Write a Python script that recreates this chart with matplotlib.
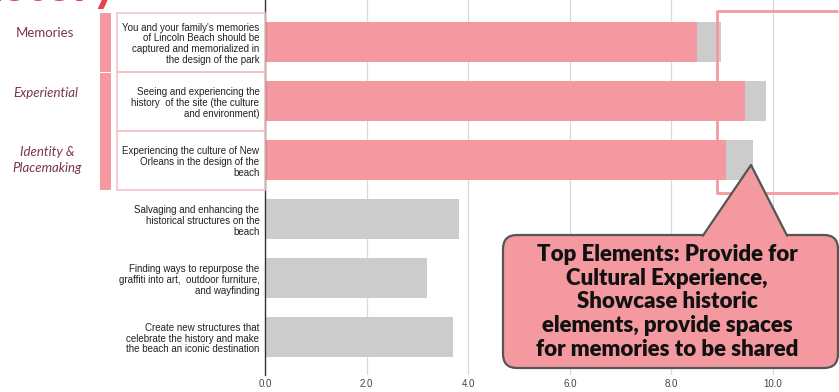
import matplotlib
matplotlib.use("Agg")
from matplotlib import pyplot as plt
from matplotlib.patches import Rectangle, FancyBboxPatch, Polygon
from matplotlib.lines import Line2D
import numpy as np

statements = [
    "You and your family's memories\nof Lincoln Beach should be\ncaptured and memorialized in\nthe design of the park",
    "Seeing and experiencing the\nhistory  of the site (the culture\nand environment)",
    "Experiencing the culture of New\nOrleans in the design of the\nbeach",
    "Salvaging and enhancing the\nhistorical structures on the\nbeach",
    "Finding ways to repurpose the\ngraffiti into art,  outdoor furniture,\nand wayfinding",
    "Create new structures that\ncelebrate the history and make\nthe beach an iconic destination",
]
top_part = [8.5, 9.45, 9.08, 0, 0, 0]
rest_part = [0.48, 0.42, 0.52, 3.82, 3.18, 3.71]
x_ticks = [0, 2, 4, 6, 8, 10]
groups = ["Memories", "Experiential", "Identity &\nPlacemaking"]
callout = ("Top Elements: Provide for\nCultural Experience,\nShowcase historic\n"
           "elements, provide spaces\nfor memories to be shared")

PINK = "#f4999f"
GREY = "#cccccc"
MAROON = "#7a3746"

W, H = 839, 392
fig = plt.figure(figsize=(W / 100, H / 100), dpi=100)

# main bar chart
ax = fig.add_axes([265 / W, (H - 375) / H, (W - 265) / W, 375 / H])
y = np.arange(len(statements))
ax.barh(y, top_part, height=0.68, color=PINK, zorder=2)
ax.barh(y, rest_part, left=top_part, height=0.68, color=GREY, zorder=2)
ax.set_xlim(0, 11.3)
ax.set_ylim(5.64, -0.72)
ax.set_xticks(x_ticks)
ax.set_xticklabels([f"{v:.1f}" for v in x_ticks], fontsize=7, color="#444444",
                   family="Liberation Sans")
ax.set_yticks(y)
ax.set_yticklabels(statements, fontsize=7, color="#222222", family="Liberation Sans",
                   linespacing=1.1)
ax.tick_params(length=0)
ax.tick_params(axis="y", pad=4)
ax.tick_params(axis="x", pad=3)
ax.grid(axis="x", color="#d9d9d9", linewidth=0.9, zorder=0)
for s in ["top", "right", "bottom"]:
    ax.spines[s].set_visible(False)
ax.spines["left"].set_color("#333333")
ax.spines["left"].set_linewidth(1)
ax.spines["left"].set_zorder(3)

# overlay in pixel coordinates for the slide decorations
ov = fig.add_axes([0, 0, 1, 1], facecolor="none")
ov.set_xlim(0, W)
ov.set_ylim(H, 0)
ov.set_autoscale_on(False)
ov.axis("off")

# slide title, cropped at the top edge like the original screenshot
ov.text(118, 1, "History", ha="right", va="baseline", fontsize=36,
        fontweight="bold", color="#e8404f", family="Lato")

# group markers and statement boxes
ov.add_patch(Rectangle((100, 13), 11, 59, color=PINK, lw=0))
ov.add_patch(Rectangle((100, 73), 11, 117, color=PINK, lw=0))
for top in [13, 72, 131]:
    ov.add_patch(Rectangle((117, top), 148, 59, fill=False, ec="#f3c3c7", lw=1.2))

ov.text(45, 33, groups[0], ha="center", va="center", fontsize=9.5,
        color=MAROON, family="Lato")
ov.text(46, 93, groups[1], ha="center", va="center", fontsize=9.5,
        color=MAROON, family="Lato", style="italic")
ov.text(47, 160, groups[2], ha="center", va="center", fontsize=9.5,
        color=MAROON, family="Lato", style="italic", linespacing=1.45)

# highlight frame around top bars (open on the right, runs to the edge)
ov.plot([716.5, W - 1], [10.5, 10.5], color=PINK, lw=2, solid_capstyle="butt")
ov.plot([716.5, W - 1], [192.5, 192.5], color=PINK, lw=2, solid_capstyle="butt")
ov.plot([716.5, 716.5], [9.5, 193.5], color=PINK, lw=2, solid_capstyle="butt")

# callout bubble
ov.add_patch(FancyBboxPatch((503, 235), 335, 133, boxstyle="round,pad=0,rounding_size=14",
                            fc=PINK, ec="#555555", lw=1.6, zorder=2))
ov.add_patch(Polygon([(703, 237), (751, 165), (787, 237)], closed=True,
                     fc=PINK, ec="none", zorder=3))
ov.add_line(Line2D([703, 751, 787], [235.5, 165, 235.5], color="#555555", lw=1.6, zorder=4))
ov.text(667, 302, callout, ha="center", va="center", fontsize=16, fontweight="heavy",
        family="Lato", color="#111111", linespacing=1.17, zorder=5)

fig.savefig("out.png", dpi=100)
